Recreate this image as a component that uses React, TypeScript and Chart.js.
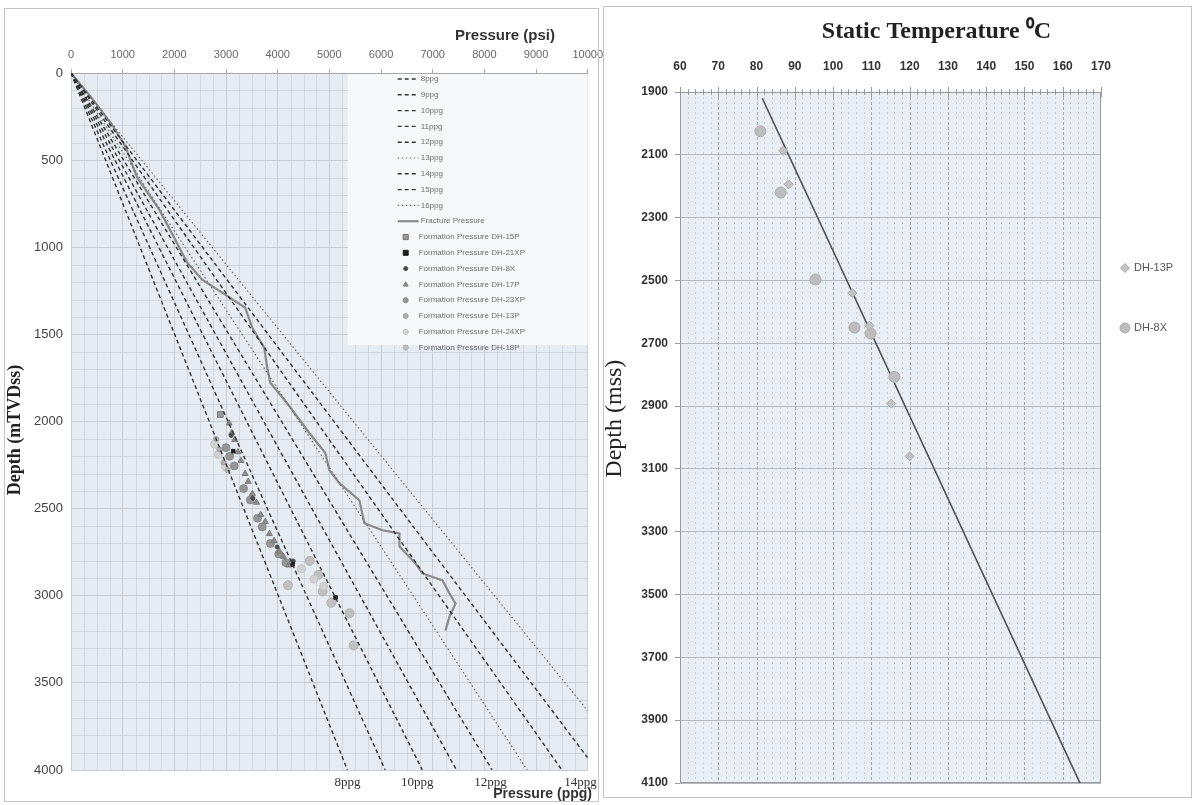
import React, { useEffect, useRef } from 'react';
import { Chart, registerables } from 'chart.js';

Chart.register(...registerables);

const SANS = "'Liberation Sans', Arial, sans-serif";
const NARROW = "'Liberation Sans Narrow', 'Liberation Sans', Arial, sans-serif";
const SERIF = "'Liberation Serif', 'Times New Roman', serif";

// ---------------- Left chart: pressure vs depth ----------------
const ppgLabels = ['8ppg', '9ppg', '10ppg', '11ppg', '12ppg', '13ppg', '14ppg', '15ppg', '16ppg'];
const ppgEndPressure = [5350, 6080, 6800, 7460, 8150, 8830, 9500, 10000, 10000];
const ppgEndDepth = [4000, 4000, 4000, 4000, 4000, 4000, 4000, 3930, 3660];
const ppgDotted = [false, false, false, false, false, true, false, false, true];

const fracLabel = 'Fracture Pressure';
const fracPressure = [0, 420, 800, 1050, 1279, 1705, 2016, 2248, 2539, 2926, 3372, 3508, 3740, 3798, 3857, 4225, 4612, 4922, 5000, 5194, 5581, 5678, 6027, 6357, 6357, 6667, 6802, 7190, 7326, 7442, 7326, 7248];
const fracDepth = [0, 150, 300, 420, 599, 783, 955, 1088, 1186, 1260, 1347, 1462, 1577, 1692, 1778, 1911, 2066, 2181, 2279, 2354, 2452, 2584, 2624, 2642, 2717, 2814, 2872, 2912, 2987, 3045, 3119, 3200];

const formationLabels = [
  'Formation Pressure DH-15P',
  'Formation Pressure DH-21XP',
  'Formation Pressure DH-8X',
  'Formation Pressure DH-17P',
  'Formation Pressure DH-23XP',
  'Formation Pressure DH-13P',
  'Formation Pressure DH-24XP',
  'Formation Pressure DH-18P',
];
const fpDH15P = [2890];
const fdDH15P = [1960];
const fpDH21XP = [3140, 4290, 5120];
const fdDH21XP = [2170, 2820, 3010];
const fpDH8X = [3100, 3520, 3990, 4300];
const fdDH8X = [2080, 2440, 2720, 2800];
const fpDH17P = [3060, 3110, 3170, 3230, 3290, 3370, 3430, 3510, 3590, 3670, 3760, 3840, 3930, 4030, 4110, 4210];
const fdDH17P = [2010, 2065, 2105, 2175, 2225, 2300, 2345, 2415, 2465, 2535, 2575, 2645, 2685, 2745, 2775, 2825];
const fpDH23XP = [3000, 3070, 3160, 3340, 3470, 3610, 3700, 3860, 4020, 4160];
const fdDH23XP = [2150, 2200, 2255, 2385, 2450, 2555, 2605, 2700, 2760, 2810];
const fpDH13P = [2810, 2870, 2950, 3030];
const fdDH13P = [2100, 2160, 2235, 2280];
const fpDH24XP = [2780, 2850, 2990, 4460, 4700, 4890];
const fdDH24XP = [2130, 2190, 2260, 2845, 2905, 2945];
const fpDH18P = [4620, 4790, 4870, 5040, 5390, 5470, 4200];
const fdDH18P = [2800, 2880, 2975, 3040, 3100, 3285, 2940];

const formationPressures = [fpDH15P, fpDH21XP, fpDH8X, fpDH17P, fpDH23XP, fpDH13P, fpDH24XP, fpDH18P];
const formationDepths = [fdDH15P, fdDH21XP, fdDH8X, fdDH17P, fdDH23XP, fdDH13P, fdDH24XP, fdDH18P];
const formationStyles = ['rect', 'rect', 'circle', 'triangle', 'circle', 'circle', 'circle', 'circle'];
const formationRadius = [4, 2.5, 2, 3.5, 4, 2.5, 4, 4.5];
const formationFill = ['#9a9a9a', '#1e1e1e', '#4a4a4a', '#8c8c8c', 'rgba(135,135,135,0.85)', '#b0b0b0', '#d2d2d2', '#c0c0c0'];
const formationStroke = ['#777777', '#1e1e1e', '#4a4a4a', '#7a7a7a', 'rgba(120,120,120,0.6)', '#a0a0a0', '#c4c4c4', '#b2b2b2'];

const pressureTickStep = 1000;
const depthTickStep = 500;
const ppgAxisValues = [5350, 6700, 8120, 9860];
const ppgAxisLabels = ['8ppg', '10ppg', '12ppg', '14ppg'];

// ---------------- Right chart: temperature vs depth ----------------
const tempSeriesLabels = ['DH-13P', 'DH-8X'];
const dh13pTemp = [87, 88.4, 105, 109.5, 115.2, 120];
const dh13pDepth = [2087, 2194, 2540, 2644, 2892, 3060];
const dh8xTemp = [81, 86.3, 95.4, 105.6, 109.8, 116];
const dh8xDepth = [2025, 2220, 2497, 2650, 2669, 2807];
const trendTemp = [81.5, 164.5];
const trendDepth = [1920, 4100];
const tempTickStep = 10;
const tempDepthStep = 200;

const zip = (xs: number[], ys: number[]) => xs.map((x, i) => ({ x, y: ys[i] }));
const plain = (v: any) => String(v);

function drawMarker(ctx: CanvasRenderingContext2D, style: string, x: number, y: number, r: number, fill: string, stroke?: string) {
  ctx.save();
  ctx.beginPath();
  if (style === 'rect') ctx.rect(x - r, y - r, 2 * r, 2 * r);
  else if (style === 'rectRot') {
    ctx.moveTo(x, y - r); ctx.lineTo(x + r, y); ctx.lineTo(x, y + r); ctx.lineTo(x - r, y); ctx.closePath();
  } else if (style === 'triangle') {
    ctx.moveTo(x, y - r); ctx.lineTo(x + r * 0.95, y + r * 0.65); ctx.lineTo(x - r * 0.95, y + r * 0.65); ctx.closePath();
  } else ctx.arc(x, y, r, 0, Math.PI * 2);
  ctx.fillStyle = fill;
  ctx.fill();
  if (stroke) { ctx.strokeStyle = stroke; ctx.lineWidth = 1; ctx.stroke(); }
  ctx.restore();
}

const leftPlugin = {
  id: 'leftDecor',
  beforeDraw(chart: any) {
    const { ctx, chartArea: a } = chart;
    const xs = chart.scales.x, ys = chart.scales.y;
    ctx.save();
    ctx.fillStyle = '#e7ecf2';
    ctx.fillRect(a.left, a.top, a.right - a.left, a.bottom - a.top);
    ctx.strokeStyle = 'rgba(180,190,200,0.45)';
    ctx.lineWidth = 1;
    ctx.beginPath();
    for (let v = 250; v < 10000; v += 250) {
      if (v % 1000 === 0) continue;
      const px = Math.round(xs.getPixelForValue(v)) + 0.5;
      ctx.moveTo(px, a.top); ctx.lineTo(px, a.bottom);
    }
    for (let d = 100; d < 4000; d += 100) {
      if (d % 500 === 0) continue;
      const py = Math.round(ys.getPixelForValue(d)) + 0.5;
      ctx.moveTo(a.left, py); ctx.lineTo(a.right, py);
    }
    ctx.stroke();
    ctx.restore();
  },
  beforeDatasetsDraw(chart: any) {
    const { ctx, chartArea: a } = chart;
    ctx.save();
    const bx = a.right - 240, by = a.top + 1, bw = 240, bh = 271;
    ctx.fillStyle = '#f6f8fa';
    ctx.fillRect(bx, by, bw, bh);
    ctx.font = `8px ${SANS}`;
    ctx.textBaseline = 'middle';
    ctx.fillStyle = '#6e6e6e';
    const ds = chart.data.datasets;
    let y = a.top + 6;
    const step = 15.8;
    ds.forEach((d: any) => {
      if (!d.label) return;
      if (d.showLine) {
        ctx.save();
        ctx.strokeStyle = d.borderColor;
        ctx.lineWidth = d.borderWidth;
        ctx.setLineDash(d.borderDash || []);
        ctx.beginPath();
        ctx.moveTo(a.right - 190, y); ctx.lineTo(a.right - 169, y);
        ctx.stroke();
        ctx.restore();
        ctx.fillText(d.label, a.right - 167, y);
      } else {
        drawMarker(ctx, d.pointStyle, a.right - 182, y, Math.min(d.pointRadius, 2.6), d.backgroundColor, d.borderColor);
        ctx.fillText(d.label, a.right - 169, y);
      }
      y += step;
    });
    ctx.restore();
  },
  afterDraw(chart: any) {
    const { ctx } = chart;
    ctx.save();
    ctx.fillStyle = '#333';
    ctx.textBaseline = 'middle';
    ctx.textAlign = 'right';
    ctx.font = `bold 15px ${NARROW}`;
    ctx.fillText('Pressure (psi)', 555, 36);
    ctx.font = `bold 14px ${NARROW}`;
    ctx.fillText('Pressure (ppg)', 592, 794);
    ctx.translate(15, 430);
    ctx.rotate(-Math.PI / 2);
    ctx.textAlign = 'center';
    ctx.fillStyle = '#222';
    ctx.font = `bold 18px ${SERIF}`;
    ctx.fillText('Depth (mTVDss)', 0, 0);
    ctx.restore();
  },
};

const rightPlugin = {
  id: 'rightDecor',
  beforeDraw(chart: any) {
    const { ctx, chartArea: a } = chart;
    ctx.save();
    ctx.fillStyle = '#e9eef4';
    ctx.fillRect(a.left, a.top, a.right - a.left, a.bottom - a.top);
    ctx.restore();
  },
  beforeDatasetsDraw(chart: any) {
    const { ctx, chartArea: a } = chart;
    const xs = chart.scales.x;
    ctx.save();
    ctx.lineWidth = 1;
    for (let t = 62; t < 170; t += 2) {
      const px = Math.round(xs.getPixelForValue(t)) + 0.5;
      const major = t % 10 === 0;
      ctx.strokeStyle = major ? 'rgba(150,160,172,0.85)' : 'rgba(170,180,192,0.55)';
      ctx.setLineDash(major ? [3, 2] : [2, 3]);
      ctx.beginPath();
      ctx.moveTo(px, a.top); ctx.lineTo(px, a.bottom);
      ctx.stroke();
    }
    ctx.setLineDash([]);
    ctx.strokeStyle = '#9a9a9a';
    ctx.strokeRect(a.left + 0.5, a.top + 0.5, a.right - a.left - 1, a.bottom - a.top - 1);
    ctx.beginPath();
    for (let t = 60; t <= 170; t += 2) {
      const px = Math.round(xs.getPixelForValue(t)) + 0.5;
      const len = t % 10 === 0 ? 5 : 3;
      ctx.moveTo(px, a.top - len); ctx.lineTo(px, a.top + len);
    }
    ctx.stroke();
    ctx.restore();
  },
  afterDraw(chart: any) {
    const { ctx, chartArea: a } = chart;
    const xs = chart.scales.x, ys = chart.scales.y;
    ctx.save();
    ctx.fillStyle = '#222';
    ctx.textAlign = 'center';
    ctx.textBaseline = 'middle';
    ctx.font = `bold 24px ${SERIF}`;
    ctx.fillText('Static Temperature \u2070C', xs.getPixelForValue(127), 32);
    ctx.save();
    ctx.translate(15, ys.getPixelForValue(2940));
    ctx.rotate(-Math.PI / 2);
    ctx.font = `24px ${SERIF}`;
    ctx.fillText('Depth (mss)', 0, 0);
    ctx.restore();
    // legend
    const ds = chart.data.datasets.filter((d: any) => d.label);
    ctx.font = `11px ${SANS}`;
    ctx.textAlign = 'left';
    ds.forEach((d: any, i: number) => {
      const ly = a.top + 176 + i * 60;
      drawMarker(ctx, d.pointStyle, a.right + 24, ly, d.pointStyle === 'circle' ? 5 : 4.5, d.backgroundColor, d.borderColor);
      ctx.fillStyle = '#555';
      ctx.fillText(d.label, a.right + 33, ly);
    });
    ctx.restore();
  },
};

export default function App() {
  const leftRef = useRef<HTMLCanvasElement>(null);
  const rightRef = useRef<HTMLCanvasElement>(null);

  useEffect(() => {
    const pointSets: any[] = formationLabels.map((label, i) => ({
      label,
      data: zip(formationPressures[i], formationDepths[i]),
      showLine: false,
      pointStyle: formationStyles[i],
      pointRadius: formationRadius[i],
      backgroundColor: formationFill[i],
      borderColor: formationStroke[i],
      borderWidth: 1,
    }));
    const lineSets: any[] = ppgLabels.map((label, i) => ({
      label,
      data: [{ x: 0, y: 0 }, { x: ppgEndPressure[i], y: ppgEndDepth[i] }],
      showLine: true,
      borderColor: ppgDotted[i] ? '#6a6a6a' : '#333333',
      borderWidth: ppgDotted[i] ? 1.2 : 1.4,
      borderDash: ppgDotted[i] ? [1.5, 2.5] : [4, 3],
      pointRadius: 0,
      backgroundColor: 'transparent',
    }));
    lineSets.push({
      label: fracLabel,
      data: zip(fracPressure, fracDepth),
      showLine: true,
      borderColor: '#8a8a8a',
      borderWidth: 2.2,
      pointRadius: 0,
      backgroundColor: 'transparent',
    });

    const left = new Chart(leftRef.current as HTMLCanvasElement, {
      type: 'scatter',
      data: { datasets: [...lineSets, ...pointSets] },
      plugins: [leftPlugin],
      options: {
        animation: false,
        responsive: false,
        devicePixelRatio: 1,
        events: [],
        layout: { padding: { left: 0, right: 13, top: 0, bottom: 0 } },
        plugins: { legend: { display: false }, tooltip: { enabled: false }, title: { display: false } },
        scales: {
          x: {
            type: 'linear', position: 'top', min: 0, max: 10000,
            ticks: { stepSize: pressureTickStep, callback: plain, color: '#666', font: { family: NARROW, size: 11 }, padding: 7, maxRotation: 0, autoSkip: false },
            grid: { color: '#c6cdd5', drawTicks: true, tickLength: 4, tickColor: '#aaa' },
            border: { display: true, color: '#a8a8a8' },
            afterFit: (s: any) => { s.height = 73; },
          },
          xb: {
            type: 'linear', position: 'bottom', min: 0, max: 10000,
            afterBuildTicks: (s: any) => { s.ticks = ppgAxisValues.map((v) => ({ value: v })); },
            ticks: {
              callback: (_v: any, i: number) => ppgAxisLabels[i],
              color: '#333', font: { family: SERIF, size: 13 }, padding: 5, maxRotation: 0, autoSkip: false,
            },
            grid: { display: false, drawTicks: false },
            border: { display: false },
            afterFit: (s: any) => { s.height = 35; },
          },
          y: {
            type: 'linear', reverse: true, min: 0, max: 4000,
            ticks: { stepSize: depthTickStep, callback: plain, color: '#444', font: { family: SANS, size: 13 }, padding: 8 },
            grid: { color: '#c6cdd5', drawTicks: false },
            border: { display: false },
            afterFit: (s: any) => { s.width = 71; },
          },
        },
      } as any,
    });

    const right = new Chart(rightRef.current as HTMLCanvasElement, {
      type: 'scatter',
      data: {
        datasets: [
          {
            label: tempSeriesLabels[0],
            data: zip(dh13pTemp, dh13pDepth),
            pointStyle: 'rectRot', pointRadius: 4.5,
            backgroundColor: '#c2c2c2', borderColor: '#a9a9a9', borderWidth: 1,
          },
          {
            label: tempSeriesLabels[1],
            data: zip(dh8xTemp, dh8xDepth),
            pointStyle: 'circle', pointRadius: 5.5,
            backgroundColor: '#bdbdbd', borderColor: '#adadad', borderWidth: 1,
          },
          {
            label: '',
            data: zip(trendTemp, trendDepth),
            showLine: true, pointRadius: 0,
            borderColor: '#4f4f4f', borderWidth: 1.6, backgroundColor: 'transparent',
          },
        ],
      },
      plugins: [rightPlugin],
      options: {
        animation: false,
        responsive: false,
        devicePixelRatio: 1,
        events: [],
        layout: { padding: { left: 0, right: 93, top: 0, bottom: 22 } },
        plugins: { legend: { display: false }, tooltip: { enabled: false }, title: { display: false } },
        scales: {
          x: {
            type: 'linear', position: 'top', min: 60, max: 170,
            ticks: { stepSize: tempTickStep, callback: plain, color: '#333', font: { family: SANS, size: 12, weight: 'bold' }, padding: 18, maxRotation: 0, autoSkip: false },
            grid: { display: false, drawTicks: false },
            border: { display: false },
            afterFit: (s: any) => { s.height = 92; },
          },
          y: {
            type: 'linear', reverse: true, min: 1900, max: 4100,
            ticks: { stepSize: tempDepthStep, callback: plain, color: '#333', font: { family: SANS, size: 12, weight: 'bold' }, padding: 7 },
            grid: { color: '#b3bac3', drawTicks: true, tickLength: 5, tickColor: '#999' },
            border: { display: false },
            afterFit: (s: any) => { s.width = 80; },
          },
        },
      } as any,
    });

    return () => { left.destroy(); right.destroy(); };
  }, []);

  return (
    <div style={{ position: 'fixed', left: 0, top: 0, width: 1194, height: 805, background: '#fff', overflow: 'hidden' }}>
      <canvas ref={leftRef} width={610} height={805} style={{ position: 'absolute', left: 0, top: 0, width: 610, height: 805 }} />
      <canvas ref={rightRef} width={594} height={805} style={{ position: 'absolute', left: 600, top: 0, width: 594, height: 805 }} />
      <div style={{ position: 'absolute', left: 4, top: 8, width: 593, height: 792, border: '1px solid #c4c4c4', pointerEvents: 'none' }} />
      <div style={{ position: 'absolute', left: 603, top: 6, width: 587, height: 790, border: '1px solid #c4c4c4', pointerEvents: 'none' }} />
    </div>
  );
}
